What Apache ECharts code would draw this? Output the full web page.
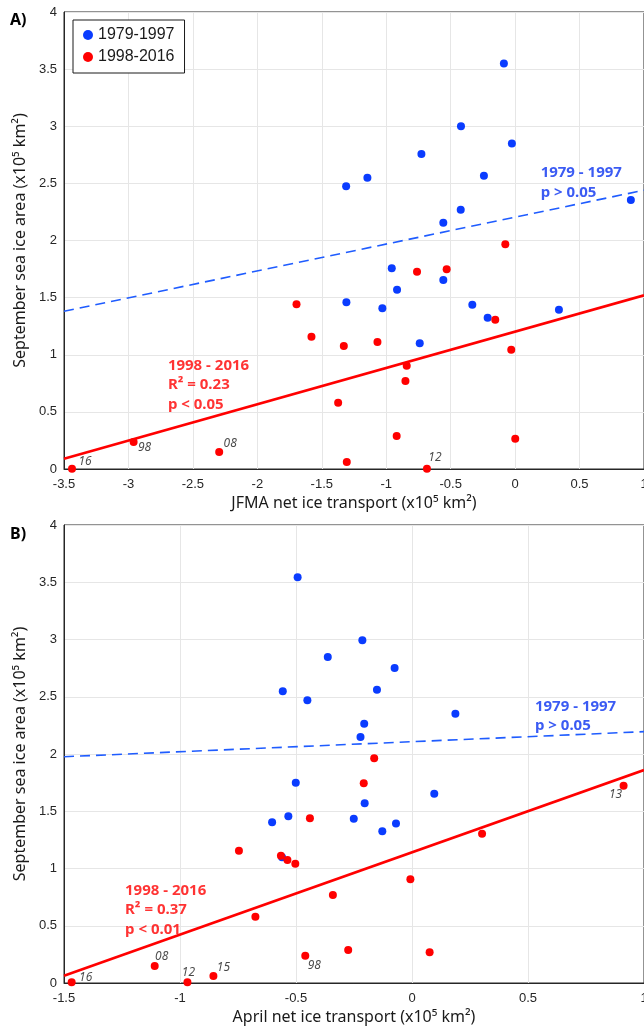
<!DOCTYPE html>
<html>
<head>
<meta charset="utf-8">
<script src="https://cdn.jsdelivr.net/npm/echarts@6/dist/echarts.min.js"></script>
<style>
  html, body { margin: 0; padding: 0; background: #fff; overflow: hidden; }
  #chart { width: 644px; height: 1029px; }
</style>
</head>
<body>
<div id="chart"></div>
<script>
// Panel A: JFMA net ice transport vs September sea ice area
const jfmaBlueX = [-0.087, -0.42, -0.025, -0.727, -0.242, -1.146, -1.311, 0.898, -0.422, -0.557,
  -0.957, -0.557, -0.916, -1.309, -1.03, -0.332, -0.213, 0.34, -0.74];
const jfmaBlueY = [3.55, 3.0, 2.85, 2.757, 2.567, 2.55, 2.474, 2.354, 2.27, 2.156,
  1.757, 1.654, 1.569, 1.459, 1.407, 1.438, 1.324, 1.394, 1.1];
const jfmaRedX = [-0.076, -0.761, -0.531, -0.154, -1.329, -1.068, -0.03, -0.841, -0.851, -1.373,
  -0.919, 0.001, -1.306, -0.684, -1.696, -1.58, -2.96, -2.296, -3.438];
const jfmaRedY = [1.967, 1.727, 1.748, 1.307, 1.077, 1.112, 1.044, 0.904, 0.77, 0.58,
  0.289, 0.265, 0.061, 0.003, 1.441, 1.158, 0.236, 0.149, 0.003];
const jfmaBlueFit = [[-3.5, 1.38], [1, 2.44]];
const jfmaRedFit = [[-3.5, 0.09], [1, 1.52]];
const jfmaTags = [['16', -3.438, 0.003], ['98', -2.96, 0.236], ['08', -2.296, 0.149], ['12', -0.684, 0.003]];

// Panel B: April net ice transport vs September sea ice area
const aprBlueX = [-0.493, -0.363, -0.557, -0.451, -0.214, -0.075, -0.151, 0.187, -0.206, -0.222,
  -0.501, -0.533, -0.603, -0.56, 0.096, -0.204, -0.251, -0.069, -0.128];
const aprBlueY = [3.543, 2.847, 2.547, 2.469, 2.993, 2.751, 2.562, 2.352, 2.265, 2.149,
  1.75, 1.456, 1.403, 1.098, 1.653, 1.569, 1.435, 1.394, 1.325];
const aprRedX = [-0.163, -0.44, -0.746, -0.565, -0.537, -0.503, -0.675, -0.46, -1.109, -1.467,
  -0.968, -0.856, -0.208, 0.912, 0.302, -0.007, -0.341, -0.275, 0.076];
const aprRedY = [1.962, 1.438, 1.156, 1.112, 1.074, 1.042, 0.579, 0.238, 0.148, 0.006,
  0.006, 0.061, 1.744, 1.723, 1.304, 0.906, 0.769, 0.288, 0.268];
const aprBlueFit = [[-1.5, 1.976], [1, 2.195]];
const aprRedFit = [[-1.5, 0.064], [1, 1.86]];
const aprTags = [['16', -1.467, 0.006], ['08', -1.109, 0.148], ['12', -0.968, 0.006],
  ['15', -0.856, 0.061], ['98', -0.46, 0.238], ['13', 0.912, 1.723]];

const jfmaNotes = ['1979 - 1997\np > 0.05', '1998 - 2016\nR² = 0.23\np < 0.05'];
const aprNotes = ['1979 - 1997\np > 0.05', '1998 - 2016\nR² = 0.37\np < 0.01'];

const BLUE = '#0a3cff';
const RED = '#ff0000';
const AXIS = '#262626';

const tagOffsetA = { '16': [13, -7], '98': [11, 6], '08': [11, -8], '12': [8, -11] };
const tagOffsetB = { '16': [14, -5], '08': [7, -9], '12': [1, -10], '15': [10, -8], '98': [9, 10], '13': [-8, 9] };

const zip = (xs, ys) => xs.map((x, i) => [x, ys[i]]);

function xAxisCfg(gridIndex, min, name) {
  return {
    gridIndex: gridIndex,
    type: 'value',
    min: min,
    max: 1,
    interval: 0.5,
    name: name,
    nameLocation: 'middle',
    nameGap: 26,
    nameTextStyle: { fontFamily: 'Noto Sans', fontSize: 16, color: '#1a1a1a' },
    axisLine: { show: true, onZero: false, lineStyle: { color: AXIS, width: 1 } },
    axisTick: { show: false },
    axisLabel: { fontFamily: 'Liberation Sans', fontSize: 13, color: AXIS, margin: 9 },
    splitLine: { show: true, lineStyle: { color: '#e6e6e6', width: 1 } },
  };
}

function yAxisCfg(gridIndex) {
  return {
    gridIndex: gridIndex,
    type: 'value',
    min: 0,
    max: 4,
    interval: 0.5,
    name: 'September sea ice area (x10⁵ km²)',
    nameLocation: 'middle',
    nameGap: 35,
    nameTextStyle: { fontFamily: 'Noto Sans', fontSize: 16, color: '#1a1a1a' },
    axisLine: { show: true, onZero: false, lineStyle: { color: AXIS, width: 1 } },
    axisTick: { show: false },
    axisLabel: { fontFamily: 'Liberation Sans', fontSize: 13, color: AXIS, margin: 7 },
    splitLine: { show: true, lineStyle: { color: '#e6e6e6', width: 1 } },
  };
}

function fitSeries(idx, data, color, dashed) {
  return {
    type: 'line',
    xAxisIndex: idx,
    yAxisIndex: idx,
    data: data,
    symbol: 'none',
    silent: true,
    z: 1,
    lineStyle: { color: color, width: dashed ? 1.6 : 2.6, type: dashed ? [10, 6] : 'solid' },
  };
}

function dotSeries(idx, name, data, color) {
  return {
    type: 'scatter',
    name: name,
    xAxisIndex: idx,
    yAxisIndex: idx,
    data: data,
    symbolSize: 8,
    z: 3,
    itemStyle: { color: color, opacity: 1 },
  };
}

function tagSeries(idx, tags, offsets) {
  return {
    type: 'scatter',
    xAxisIndex: idx,
    yAxisIndex: idx,
    symbolSize: 1,
    silent: true,
    z: 4,
    itemStyle: { color: 'transparent' },
    data: tags.map((t) => ({
      name: t[0],
      value: [t[1], t[2]],
      label: {
        show: true,
        position: 'inside',
        offset: offsets[t[0]],
        formatter: t[0],
        fontFamily: 'Noto Sans',
        fontStyle: 'italic',
        fontSize: 12,
        color: '#1a1a1a',
      },
    })),
  };
}

function noteSeries(idx, text, at, color) {
  return {
    type: 'scatter',
    xAxisIndex: idx,
    yAxisIndex: idx,
    symbolSize: 1,
    silent: true,
    z: 5,
    itemStyle: { color: 'transparent' },
    data: [{
      value: at,
      label: {
        show: true,
        position: 'inside',
        align: 'left',
        verticalAlign: 'top',
        formatter: text,
        fontFamily: 'Noto Sans',
        fontWeight: 'bold',
        fontSize: 15,
        lineHeight: 19.5,
        color: color,
      },
    }],
  };
}

const chart = echarts.init(document.getElementById('chart'), null, { renderer: 'canvas' });

const option = {
  animation: false,
  backgroundColor: '#ffffff',
  grid: [
    { left: 64, top: 12, width: 580, height: 457, outerBoundsMode: 'none', show: true, borderColor: AXIS, borderWidth: 1, backgroundColor: 'transparent' },
    { left: 64, top: 525, width: 580, height: 458, outerBoundsMode: 'none', show: true, borderColor: AXIS, borderWidth: 1, backgroundColor: 'transparent' },
  ],
  xAxis: [
    xAxisCfg(0, -3.5, 'JFMA net ice transport (x10⁵ km²)'),
    xAxisCfg(1, -1.5, 'April net ice transport (x10⁵ km²)'),
  ],
  yAxis: [yAxisCfg(0), yAxisCfg(1)],
  legend: {
    data: ['1979-1997', '1998-2016'],
    orient: 'vertical',
    left: 73,
    top: 20,
    padding: [7, 10, 8, 10],
    itemWidth: 10,
    itemHeight: 10,
    itemGap: 6,
    icon: 'circle',
    borderColor: '#1a1a1a',
    borderWidth: 1,
    backgroundColor: '#fff',
    selectedMode: false,
    textStyle: { fontFamily: 'Liberation Sans', fontSize: 16, color: '#1a1a1a', lineHeight: 16 },
  },
  graphic: [
    { type: 'text', left: 10, top: 12, style: { text: 'A)', fontFamily: 'Noto Sans', fontWeight: 'bold', fontSize: 16, fill: '#000' } },
    { type: 'text', left: 10, top: 526, style: { text: 'B)', fontFamily: 'Noto Sans', fontWeight: 'bold', fontSize: 16, fill: '#000' } },
  ],
  series: [
    fitSeries(0, jfmaBlueFit, '#1f5cff', true),
    fitSeries(0, jfmaRedFit, RED, false),
    dotSeries(0, '1979-1997', zip(jfmaBlueX, jfmaBlueY), BLUE),
    dotSeries(0, '1998-2016', zip(jfmaRedX, jfmaRedY), RED),
    tagSeries(0, jfmaTags, tagOffsetA),
    noteSeries(0, jfmaNotes[0], [0.198, 2.678], '#0a32f0'),
    noteSeries(0, jfmaNotes[1], [-2.694, 0.993], RED),

    fitSeries(1, aprBlueFit, '#1f5cff', true),
    fitSeries(1, aprRedFit, RED, false),
    dotSeries(1, '1979-1997', zip(aprBlueX, aprBlueY), BLUE),
    dotSeries(1, '1998-2016', zip(aprRedX, aprRedY), RED),
    tagSeries(1, aprTags, tagOffsetB),
    noteSeries(1, aprNotes[0], [0.53, 2.502], '#0a32f0'),
    noteSeries(1, aprNotes[1], [-1.237, 0.895], RED),
  ],
};

chart.setOption(option);
</script>
</body>
</html>
